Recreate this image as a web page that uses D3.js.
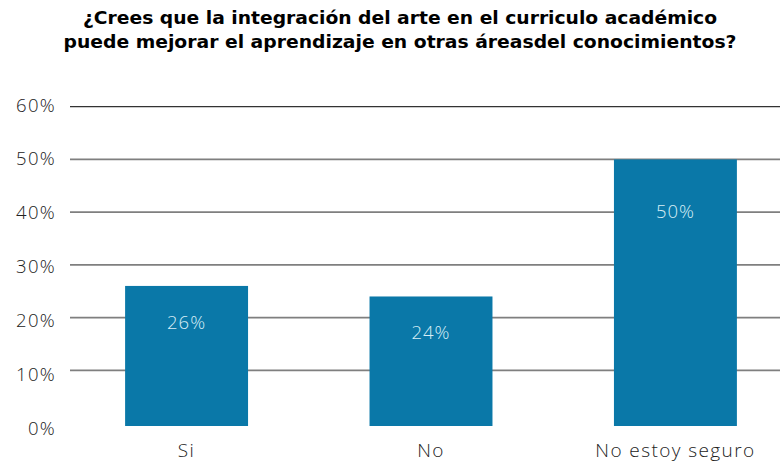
<!DOCTYPE html>
<html>
<head>
<meta charset="utf-8">
<script src="https://cdn.jsdelivr.net/npm/d3@7"></script>
<style>
  body { margin: 0; background: #fff; }
  svg { display: block; }
</style>
</head>
<body>
<div id="chart"></div>
<script>
// Data
var categories = ["Si", "No", "No estoy seguro"];
var values = [26, 24, 50];
var yTicks = [0, 10, 20, 30, 40, 50, 60];
var titleLines = [
    "¿Crees que la integración del arte en el curriculo académico",
    "puede mejorar el aprendizaje en otras áreasdel conocimientos?"
];

var w = 780;
var h = 464;
var labelFont = "'Open Sans', Lato, sans-serif";

var svg = d3.select("#chart")
    .append("svg")
    .attr("width", w)
    .attr("height", h);

// Scales
var yScale = d3.scaleLinear()
    .domain([0, 60])
    .range([423, 106.7]);

// tick labels sit on a slightly wider spacing than the grid
var yLabel = d3.scaleLinear()
    .domain([0, 60])
    .range([428, 105]);

var xScale = d3.scaleBand()
    .domain(categories)
    .range([64, 798])
    .paddingInner(0.497)
    .paddingOuter(0.25);

// Title (two centred lines, stretched to the reference widths)
var titleWidths = [634, 673];
svg.selectAll("text.title")
    .data(titleLines)
    .enter()
    .append("text")
    .attr("class", "title")
    .attr("x", 400)
    .attr("y", function (d, i) { return 23.5 + i * 24; })
    .attr("text-anchor", "middle")
    .attr("textLength", function (d, i) { return titleWidths[i]; })
    .attr("lengthAdjust", "spacingAndGlyphs")
    .style("font-family", "'DejaVu Sans', sans-serif")
    .style("font-weight", "bold")
    .style("font-size", "17.5px")
    .style("fill", "#000")
    .text(function (d) { return d; });

// Gridlines
svg.selectAll("line.grid")
    .data(yTicks.filter(function (t) { return t > 0; }))
    .enter()
    .append("line")
    .attr("class", "grid")
    .attr("x1", 70)
    .attr("x2", w)
    .attr("y1", function (d) { return yScale(d); })
    .attr("y2", function (d) { return yScale(d); })
    .style("stroke", function (d) { return d === 60 ? "#333" : "#7f7f7f"; })
    .style("stroke-width", function (d) { return d === 60 ? 1.2 : 1.8; });

// Y tick labels
svg.selectAll("text.ytick")
    .data(yTicks)
    .enter()
    .append("text")
    .attr("class", "ytick")
    .attr("x", 56)
    .attr("y", function (d) { return yLabel(d); })
    .attr("dy", "0.36em")
    .attr("text-anchor", "end")
    .style("font-family", labelFont)
    .style("font-weight", "300")
    .style("font-size", "18.5px")
    .style("letter-spacing", "1.3px")
    .style("fill", "#222")
    .text(function (d) { return d + "%"; });

// Bars
svg.selectAll("rect.bar")
    .data(values)
    .enter()
    .append("rect")
    .attr("class", "bar")
    .attr("x", function (d, i) { return xScale(categories[i]); })
    .attr("y", function (d) { return yScale(d); })
    .attr("width", xScale.bandwidth())
    .attr("height", function (d) { return yScale(0) - yScale(d) + 3; })
    .style("fill", "#0a78a8");

// Value labels inside bars
svg.selectAll("text.value")
    .data(values)
    .enter()
    .append("text")
    .attr("class", "value")
    .attr("x", function (d, i) { return xScale(categories[i]) + xScale.bandwidth() / 2; })
    .attr("y", function (d) { return yScale(d) + (d > 40 ? 52 : 36); })
    .attr("dy", "0.36em")
    .attr("text-anchor", "middle")
    .style("font-family", labelFont)
    .style("font-weight", "300")
    .style("font-size", "18.5px")
    .style("letter-spacing", "1px")
    .style("fill", "#d8eef6")
    .text(function (d) { return d + "%"; });

// Category labels
svg.selectAll("text.cat")
    .data(categories)
    .enter()
    .append("text")
    .attr("class", "cat")
    .attr("x", function (d) { return xScale(d) + xScale.bandwidth() / 2; })
    .attr("y", 450.5)
    .attr("dy", "0.36em")
    .attr("text-anchor", "middle")
    .style("font-family", labelFont)
    .style("font-weight", "300")
    .style("font-size", "19px")
    .style("letter-spacing", "1.4px")
    .style("fill", "#222")
    .text(function (d) { return d; });
</script>
</body>
</html>
